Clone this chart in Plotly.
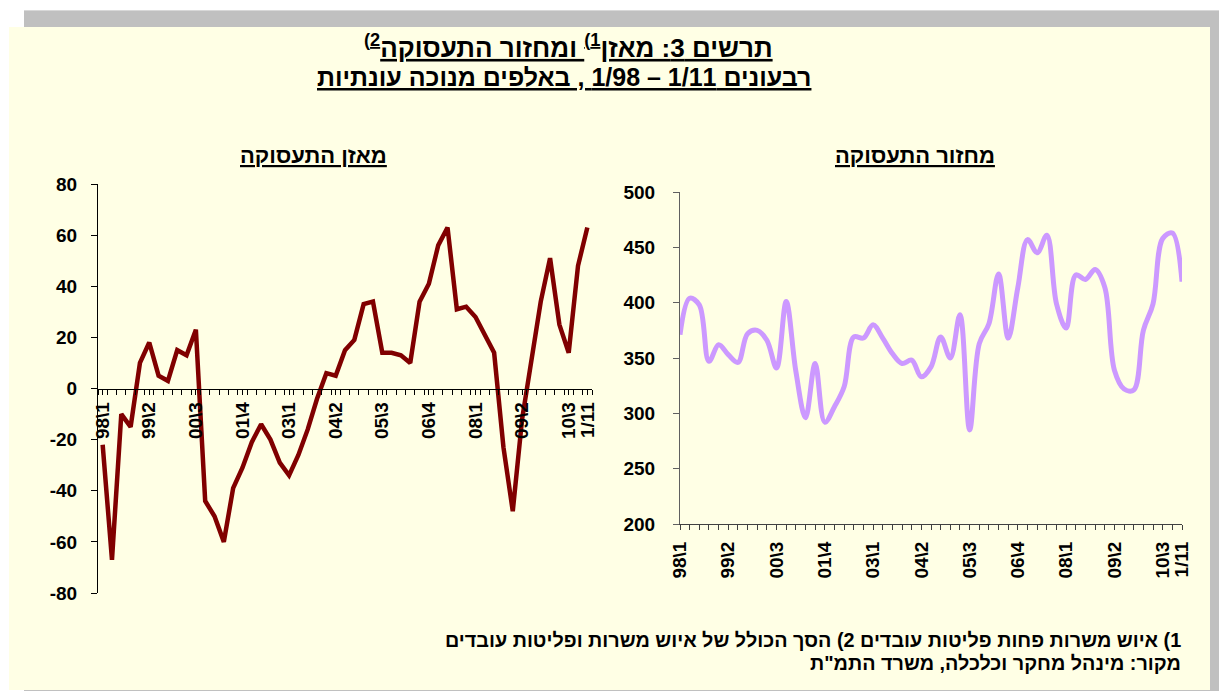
import plotly.graph_objects as go

W, H = 1219, 691

# ---- data (quarters 1/98 .. 1/11) ----
quarters = list(range(53))
balance = [-22, -67, -10, -15, 10, 18, 5, 3, 15, 13, 23, -44, -50, -60, -39, -31, -21, -14,
           -20, -29, -34, -26, -16, -4, 6, 5, 15, 19, 33, 34, 14, 14, 13, 10, 34, 41, 56, 63,
           31, 32, 28, 21, 14, -23, -48, -12, 11, 34, 51, 25, 14, 48, 63]
turnover = [371, 404, 398, 347, 362, 353, 346, 372, 375, 366, 341, 401, 338, 296, 345, 292,
            306, 324, 369, 368, 380, 368, 354, 345, 348, 333, 342, 369, 350, 389, 285, 363,
            381, 426, 368, 414, 457, 445, 461, 399, 377, 425, 421, 430, 414, 339, 322, 321,
            375, 399, 458, 463, 419]
label_pos = [0, 5, 10, 15, 20, 25, 30, 35, 40, 45, 50, 52]
label_text = ["98\\1", "99\\2", "00\\3", "01\\4", "03\\1", "04\\2", "05\\3", "06\\4",
              "08\\1", "09\\2", "10\\3", "1/11"]
left_yticks = [-80, -60, -40, -20, 0, 20, 40, 60, 80]
left_ytext = ["-80", "-60", "-40", "-20", "0", "20", "40", "60", "80"]
right_yticks = [200, 250, 300, 350, 400, 450, 500]

RLE, LRE, PDF = "\u202b", "\u202a", "\u202c"
title1 = RLE + "<u>תרשים 3: מאזן<sup>1)</sup> ומחזור התעסוקה<sup>2)</sup></u>" + PDF
title2 = RLE + "<u>רבעונים " + LRE + "1/98 – 1/11" + PDF + " , באלפים מנוכה עונתיות</u>" + PDF
left_title = RLE + "<u>מאזן התעסוקה</u>" + PDF
right_title = RLE + "<u>מחזור התעסוקה</u>" + PDF
note1 = RLE + "1) איוש משרות פחות פליטות עובדים 2) הסך הכולל של איוש משרות ופליטות עובדים" + PDF
note2 = RLE + "מקור: מינהל מחקר וכלכלה, משרד התמ\"ת" + PDF

FONT = "Liberation Sans, Arial, sans-serif"

def px(x):
    return x / W

def py(y):
    return 1 - y / H

def bfont(size):
    return dict(family=FONT, size=size, color="black", weight="bold")

fig = go.Figure()
fig.add_trace(go.Scatter(x=quarters, y=balance, mode="lines", xaxis="x", yaxis="y",
                         line=dict(color="#800000", width=4.5), hoverinfo="skip"))
fig.add_trace(go.Scatter(x=quarters, y=turnover, mode="lines", xaxis="x2", yaxis="y2",
                         line=dict(color="#CC99FF", width=5, shape="spline", smoothing=1),
                         hoverinfo="skip"))

tickfont = bfont(19)

fig.update_layout(
    width=W, height=H,
    margin=dict(l=0, r=0, t=0, b=0, autoexpand=False),
    paper_bgcolor="white",
    plot_bgcolor="rgba(0,0,0,0)",
    showlegend=False,
    font=dict(family=FONT, color="black"),
    xaxis=dict(domain=[px(98), px(592)], range=[-0.5, 52.5], anchor="free",
               position=py(388.5), showline=True, linecolor="black", linewidth=1,
               tickmode="array", tickvals=label_pos, ticktext=label_text, tickangle=-90,
               ticks="outside", ticklen=5, tickcolor="black",
               minor=dict(ticks="outside", tick0=-0.5, dtick=1, ticklen=5, tickcolor="black"),
               showgrid=False, zeroline=False, tickfont=tickfont, ticklabelstandoff=0,
               automargin=False),
    yaxis=dict(domain=[py(593), py(184)], range=[-80, 80], anchor="x",
               tickmode="array", tickvals=left_yticks, ticktext=left_ytext,
               showline=True, linecolor="black",
               linewidth=1, ticks="outside", ticklen=6, tickcolor="black",
               showgrid=False, zeroline=False, tickfont=tickfont, ticklabelstandoff=10,
               automargin=False),
    xaxis2=dict(domain=[px(680), px(1182)], range=[0, 52], anchor="y2",
                showline=True, linecolor="#404040", linewidth=1,
                tickmode="array", tickvals=label_pos, ticktext=label_text, tickangle=-90,
                ticks="outside", ticklen=5, tickcolor="#404040",
                minor=dict(ticks="outside", tick0=0, dtick=1, ticklen=5, tickcolor="#404040"),
                showgrid=False, zeroline=False, tickfont=tickfont, ticklabelstandoff=4,
                automargin=False),
    yaxis2=dict(domain=[py(524), py(192)], range=[200, 500], anchor="x2",
                tickmode="array", tickvals=right_yticks, showline=True, linecolor="#606060",
                linewidth=1, ticks="outside", ticklen=6, tickcolor="#606060",
                showgrid=False, zeroline=False, tickfont=tickfont, ticklabelstandoff=14,
                automargin=False),
    shapes=[
        dict(type="rect", xref="paper", yref="paper", x0=px(24), x1=1, y0=0, y1=py(10),
             fillcolor="#C0C0C0", line=dict(width=0), layer="below"),
        dict(type="line", xref="paper", yref="paper", x0=px(24), x1=1, y0=py(10.5), y1=py(10.5),
             line=dict(color="#D8D8D8", width=1), layer="below"),
        dict(type="rect", xref="paper", yref="paper", x0=px(9), x1=px(1210), y0=py(690), y1=py(27),
             fillcolor="#FFFFE5", line=dict(width=0), layer="below"),
    ],
    annotations=[
        dict(text=title1, x=px(568), y=py(46), xref="paper", yref="paper", showarrow=False,
             xanchor="center", yanchor="middle", font=bfont(26)),
        dict(text=title2, x=px(564), y=py(77), xref="paper", yref="paper", showarrow=False,
             xanchor="center", yanchor="middle", font=bfont(25)),
        dict(text=left_title, x=px(313), y=py(155), xref="paper", yref="paper", showarrow=False,
             xanchor="center", yanchor="middle", font=bfont(22)),
        dict(text=right_title, x=px(915), y=py(155), xref="paper", yref="paper", showarrow=False,
             xanchor="center", yanchor="middle", font=bfont(22)),
        dict(text=note1, x=px(1183), y=py(640), xref="paper", yref="paper", showarrow=False,
             xanchor="right", yanchor="middle", font=bfont(19.8)),
        dict(text=note2, x=px(1183), y=py(663), xref="paper", yref="paper", showarrow=False,
             xanchor="right", yanchor="middle", font=bfont(19.8)),
    ],
)

fig.write_html("out.html", config={"displayModeBar": False},
               post_script="document.body.style.margin='0';")
